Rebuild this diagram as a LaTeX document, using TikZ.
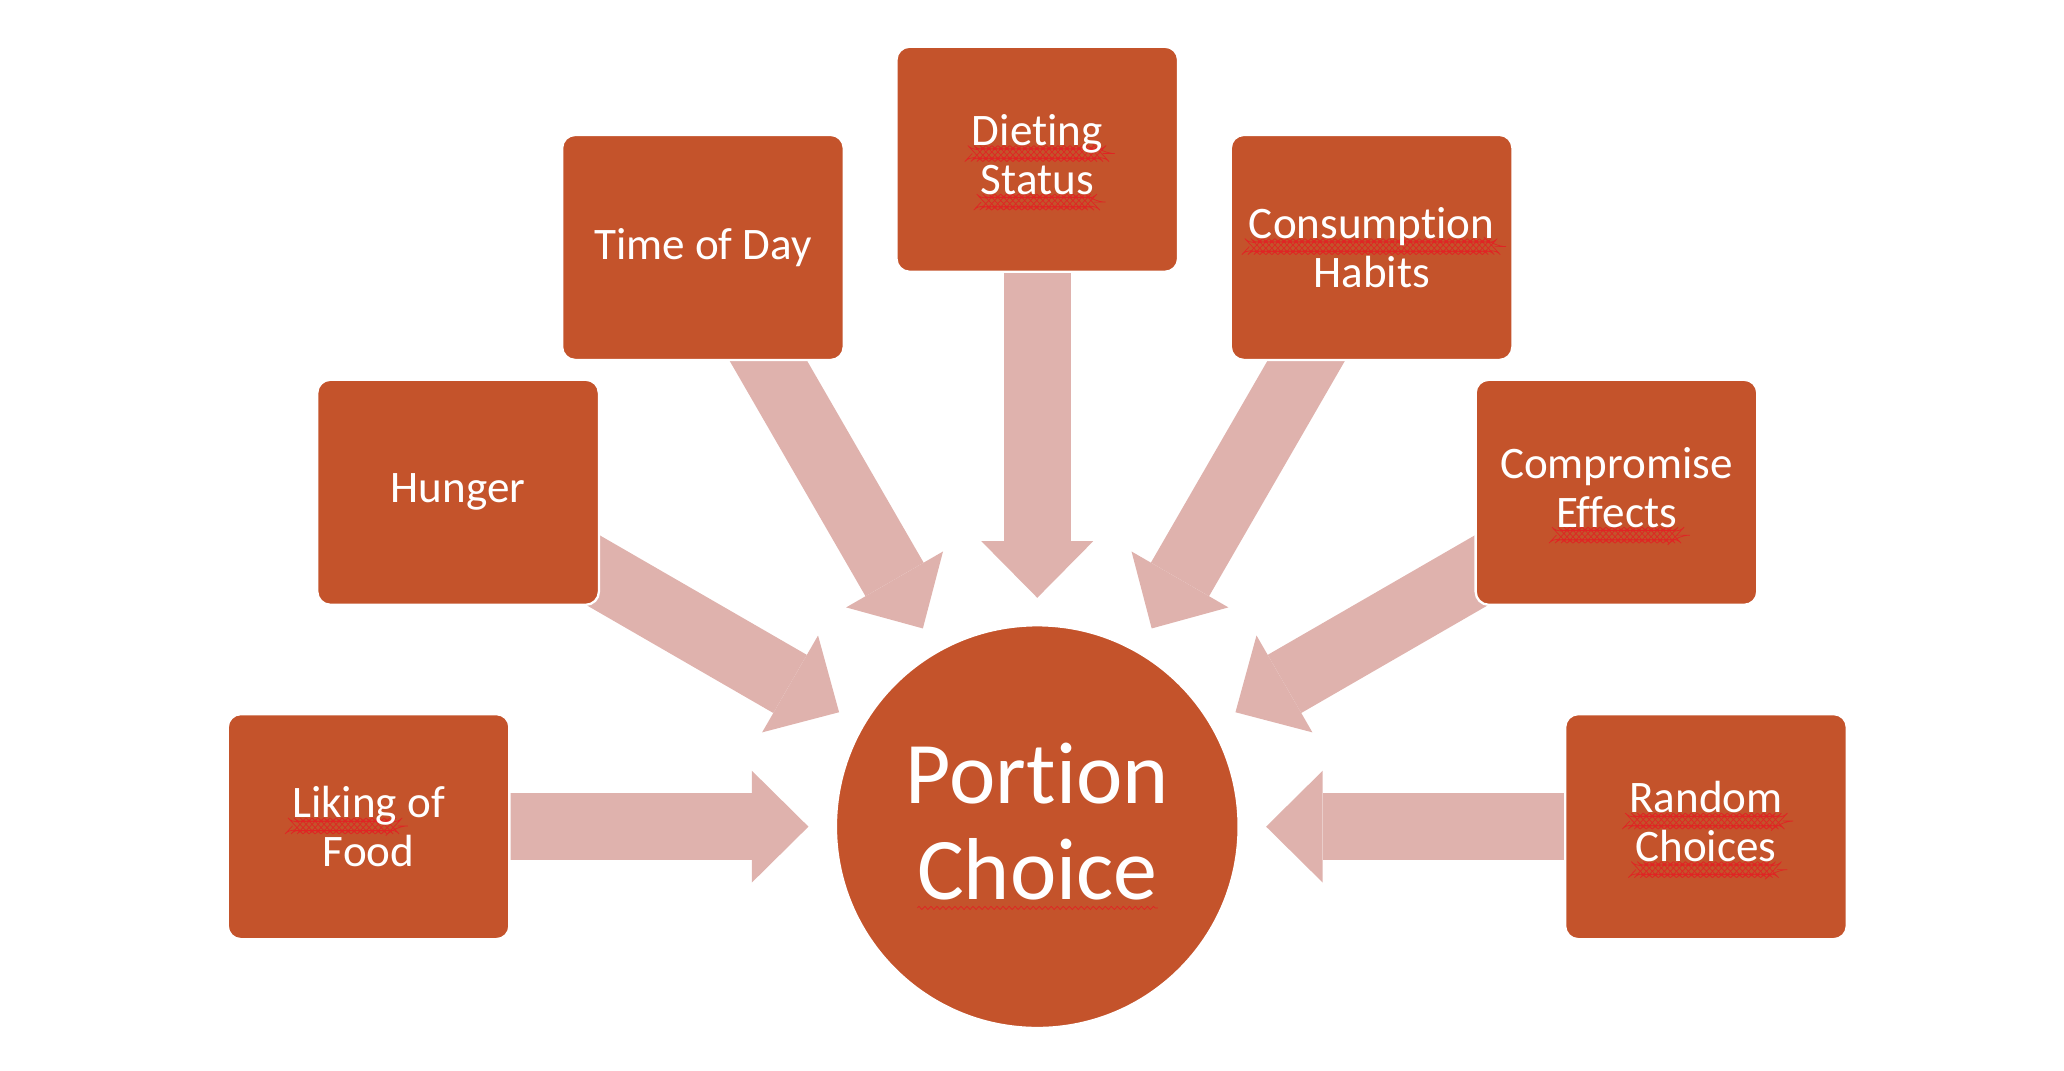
\documentclass[tikz,border=0pt]{standalone}
\usepackage{fontspec}
\setmainfont{Carlito}[Ligatures=NoCommon]
\usetikzlibrary{arrows.meta, backgrounds, decorations.pathmorphing}
\definecolor{portionrust}{HTML}{C4532B}
\definecolor{portionpink}{HTML}{DFB2AD}
\definecolor{spellred}{HTML}{E02424}

% red wavy spell-check mark under a word
\newlength{\spellwd}
\newcommand{\spellmark}[1]{\settowidth{\spellwd}{#1}%
  \rlap{\tikz[baseline=0pt]\draw[spellred, line width=0.3pt, decorate,
      decoration={zigzag, segment length=2.6pt, amplitude=0.7pt}]
      (0pt,-3.5pt) -- (\spellwd,-3.5pt);}#1}

\begin{document}
\begin{tikzpicture}[
    x=0.02cm, y=0.02cm,
    every node/.style={text=white},
    factor/.style={fill=portionrust, draw=white, line width=1pt, rounded corners=0.2cm,
        minimum width=4.28cm, minimum height=3.42cm, align=center,
        font=\fontsize{19.5pt}{21pt}\selectfont},
    centre/.style={circle, fill=portionrust, draw=white, line width=1pt, minimum size=6.12cm,
        align=center, font=\fontsize{38pt}{41.5pt}\selectfont},
    feed/.style={portionpink, line width=1.02cm, shorten >=0.4cm,
        -{Triangle[length=0.86cm, width=1.7cm, line width=0pt]}},
]

\useasboundingbox (0,0) rectangle (1568,813);

% Centre
\node[centre] (portion) at (788,185) {Portion\\\spellmark{Choice}};

% Factors, left to right
\node[factor] (liking) at (280,185) {\spellmark{Liking} of\\Food};
\node[factor] (hunger) at (348,439) {Hunger};
\node[factor] (timeofday) at (534,625) {Time of Day};
\node[factor] (dieting) at (788,692) {\spellmark{Dieting}\\\spellmark{Status}};
\node[factor] (consumption) at (1042,625) {\spellmark{Consumption}\\Habits};
\node[factor] (compromise) at (1228,439) {Compromise\\\spellmark{Effects}};
\node[factor] (random) at (1296,185) {\spellmark{Random}\\\spellmark{Choices}};

% Block arrows, behind the boxes
\begin{scope}[on background layer]
\draw[feed] (liking.center) -- (portion);
\draw[feed] (hunger.center) -- (portion);
\draw[feed] (timeofday.center) -- (portion);
\draw[feed] (dieting.center) -- (portion);
\draw[feed] (consumption.center) -- (portion);
\draw[feed] (compromise.center) -- (portion);
\draw[feed] (random.center) -- (portion);
\end{scope}

\end{tikzpicture}
\end{document}
